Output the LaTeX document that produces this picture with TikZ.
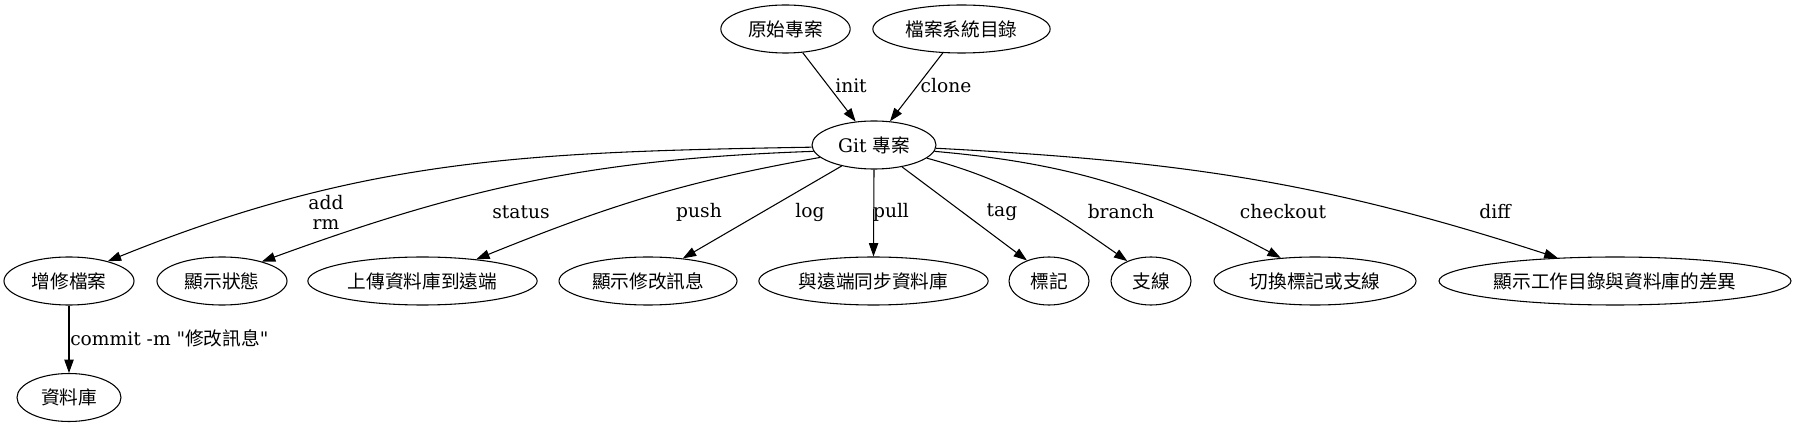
\documentclass[tikz,border=0pt]{standalone}
\usepackage{fontspec}
\setmainfont{DejaVu Serif}
\newfontfamily\zhfont{Noto Sans CJK TC}
\newcommand{\zh}[1]{{\zhfont #1}}
\usetikzlibrary{shapes.geometric,arrows.meta}

\begin{document}
\begin{tikzpicture}[x=0.75pt,y=-0.75pt,
	font=\fontsize{14}{15}\selectfont,
	elipse/.style={draw, ellipse, line width=0.8pt, inner sep=0pt, minimum height=36pt, minimum width=#1},
	flecha/.style={-{Triangle[length=10pt,width=7pt]}, line width=0.8pt},
	etiqueta/.style={inner sep=0pt, align=center}]
		\useasboundingbox (0,0) rectangle (1795,427);
		
		% Origen
		\node[elipse=97pt] (orig) at (785.5,29) {\zh{原始專案}};
		\node[elipse=133pt] (fs) at (961.5,29) {\zh{檔案系統目錄}};
		\node[elipse=93pt] (git) at (874,145) {Git \zh{專案}};
		
		% Comandos
		\node[elipse=97.5pt] (addf) at (69,281) {\zh{增修檔案}};
		\node[elipse=97.5pt] (stat) at (222,281) {\zh{顯示狀態}};
		\node[elipse=172pt] (push) at (422.5,281) {\zh{上傳資料庫到遠端}};
		\node[elipse=133.5pt] (logm) at (648,281) {\zh{顯示修改訊息}};
		\node[elipse=172pt] (pull) at (873.5,281) {\zh{與遠端同步資料庫}};
		\node[elipse=60pt] (tagn) at (1049,281) {\zh{標記}};
		\node[elipse=60pt] (brn) at (1151,281) {\zh{支線}};
		\node[elipse=151.5pt] (chk) at (1315,281) {\zh{切換標記或支線}};
		\node[elipse=264pt] (diffn) at (1615,281) {\zh{顯示工作目錄與資料庫的差異}};
		\node[elipse=78pt] (repo) at (69,397.5) {\zh{資料庫}};
		
		% Flechas
		\draw[flecha] (orig.306) -- (git.128);
		\draw[flecha] (fs.232) -- (git.56);
		\draw[flecha] (git.182) to[out=181, in=22] (addf.27);
		\draw[flecha] (git.186) to[out=182, in=20] (stat.26);
		\draw[flecha] (git.193) to[out=190, in=22] (push.22);
		\draw[flecha] (git.213) -- (logm.33);
		\draw[flecha] (git.270) -- (pull.90);
		\draw[flecha] (git.322) -- (tagn.137);
		\draw[flecha] (git.346) to[out=-15, in=145] (brn.140);
		\draw[flecha] (git.354) to[out=-5, in=152] (chk.146);
		\draw[flecha] (git.357) to[out=-3, in=162] (diffn.158);
		\draw[flecha] (addf) -- (repo);
		
		% Etiquetas
		\node[etiqueta] (lInit) at (851,86) {init};
		\node[etiqueta] (lClone) at (946,86) {clone};
		\node[etiqueta] (lAdd) at (326,212) {add\\rm};
		\node[etiqueta] (lStatus) at (521,212) {status};
		\node[etiqueta] (lPush) at (699,212) {push};
		\node[etiqueta] (lLog) at (810,212) {log};
		\node[etiqueta] (lPull) at (891,212) {pull};
		\node[etiqueta] (lTag) at (1002,212) {tag};
		\node[etiqueta] (lBranch) at (1121,212) {branch};
		\node[etiqueta] (lCheckout) at (1283,212) {checkout};
		\node[etiqueta] (lDiff) at (1495,212) {diff};
		\node[etiqueta, anchor=west] (lCommit) at (70,338) {commit -m \textquotedbl\zh{修改訊息}\textquotedbl};
	\end{tikzpicture}
\end{document}
